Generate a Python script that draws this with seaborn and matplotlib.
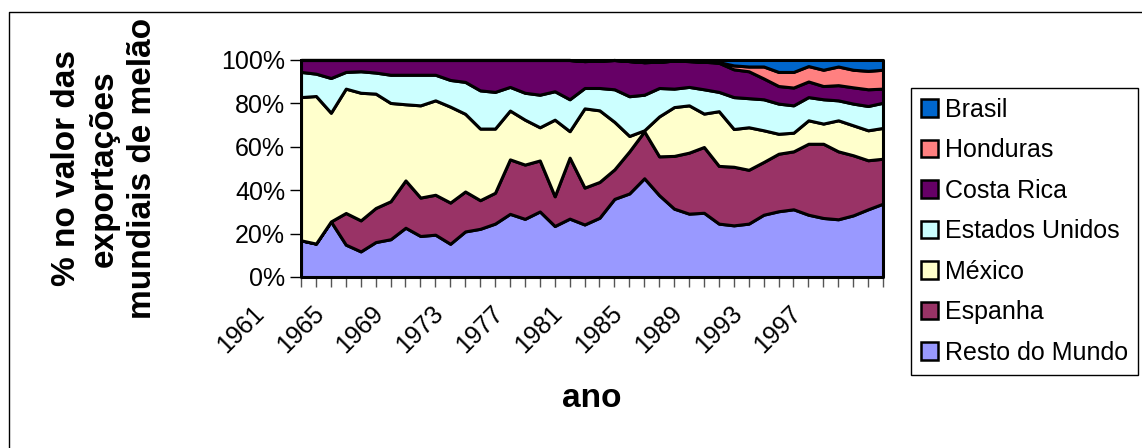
import matplotlib
matplotlib.use("Agg")
import matplotlib.pyplot as plt
import matplotlib.transforms as mtransforms
import seaborn as sns
from matplotlib.lines import Line2D
from matplotlib.patches import Patch
from matplotlib.ticker import PercentFormatter

sns.set_theme(style="white")
plt.rcParams["font.family"] = ["Liberation Sans", "DejaVu Sans"]
plt.rcParams["text.color"] = "black"
plt.rcParams["axes.labelcolor"] = "black"

# share (%) of world melon export value, 1961-2000
years = [1961, 1962, 1963, 1964, 1965, 1966, 1967, 1968, 1969, 1970,
         1971, 1972, 1973, 1974, 1975, 1976, 1977, 1978, 1979, 1980,
         1981, 1982, 1983, 1984, 1985, 1986, 1987, 1988, 1989, 1990,
         1991, 1992, 1993, 1994, 1995, 1996, 1997, 1998, 1999, 2000]
resto = [16.9, 15.4, 25.6, 14.9, 11.8, 16.1, 17.4, 22.7, 18.9, 19.5,
         15.3, 21.0, 22.2, 24.6, 29.1, 26.8, 30.2, 23.5, 26.9, 24.2,
         27.3, 36.0, 38.5, 45.5, 37.7, 31.5, 29.2, 29.6, 24.6, 23.8,
         24.6, 28.7, 30.3, 31.2, 28.7, 27.2, 26.6, 28.4, 31.2, 33.8]
espanha = [0.0, 0.0, 0.0, 14.6, 14.3, 15.7, 17.5, 21.8, 17.7, 18.4,
           19.0, 18.4, 13.2, 14.2, 25.1, 25.0, 23.5, 13.7, 28.1, 17.0,
           16.5, 13.6, 19.4, 21.6, 17.9, 24.3, 28.1, 30.3, 26.6, 27.0,
           24.8, 24.3, 26.5, 26.7, 32.7, 34.2, 31.3, 27.7, 22.6, 20.7]
mexico = [66.0, 68.0, 50.1, 57.3, 58.8, 52.7, 45.3, 35.1, 42.5, 43.5,
          44.2, 35.8, 33.0, 29.6, 22.5, 20.7, 15.3, 35.3, 12.2, 36.5,
          33.0, 21.9, 7.1, 0.5, 18.4, 22.5, 21.8, 15.4, 25.2, 17.4,
          19.6, 14.6, 9.2, 8.6, 10.8, 9.3, 14.3, 13.8, 13.8, 14.2]
eua = [11.6, 10.3, 16.0, 7.7, 9.9, 9.7, 13.0, 13.6, 14.1, 11.8,
       12.3, 14.7, 17.6, 16.9, 10.9, 12.4, 15.0, 13.1, 14.7, 9.4,
       10.3, 15.0, 18.3, 16.4, 13.1, 8.5, 8.5, 11.2, 8.9, 14.7,
       13.4, 14.3, 13.9, 12.6, 10.7, 11.2, 9.2, 10.0, 11.2, 11.6]
costa_rica = [5.5, 6.3, 8.3, 5.5, 5.2, 5.8, 6.8, 6.8, 6.8, 6.8,
              9.2, 10.1, 14.0, 14.7, 12.4, 15.1, 16.0, 14.4, 18.1, 12.4,
              12.6, 13.5, 16.2, 15.0, 12.1, 12.9, 11.9, 12.7, 13.4, 12.8,
              12.4, 9.6, 8.1, 8.2, 7.2, 6.1, 7.0, 7.5, 7.7, 6.5]
honduras = [0.0, 0.0, 0.0, 0.0, 0.0, 0.0, 0.0, 0.0, 0.0, 0.0,
            0.0, 0.0, 0.0, 0.0, 0.0, 0.0, 0.0, 0.0, 0.0, 0.0,
            0.0, 0.0, 0.0, 0.0, 0.0, 0.0, 0.0, 0.0, 0.3, 1.8,
            2.2, 5.5, 6.5, 7.2, 7.1, 7.5, 8.6, 8.1, 8.5, 8.7]
brasil = [0.0, 0.0, 0.0, 0.0, 0.0, 0.0, 0.0, 0.0, 0.0, 0.0,
          0.0, 0.0, 0.0, 0.0, 0.0, 0.0, 0.0, 0.0, 0.0, 0.5,
          0.3, 0.0, 0.5, 1.0, 0.8, 0.3, 0.5, 0.8, 1.0, 2.5,
          3.0, 3.0, 5.5, 5.5, 2.8, 4.5, 3.0, 4.5, 5.0, 4.5]

series = [resto, espanha, mexico, eua, costa_rica, honduras, brasil]
labels = ["Resto do Mundo", "Espanha", "México", "Estados Unidos",
          "Costa Rica", "Honduras", "Brasil"]
colors = ["#9999FF", "#993366", "#FFFFCC", "#CCFFFF",
          "#660066", "#FF8080", "#0066CC"]

fig = plt.figure(figsize=(11.42, 4.48), dpi=100)
ax = fig.add_axes([0.2636, 0.3817, 0.5096, 0.4844])

polys = ax.stackplot(years, *series, colors=colors, labels=labels,
                     edgecolor="black", linewidth=2.2)
for p in polys:
    p.set_clip_on(False)

ax.set_xlim(1961, 2000)
ax.set_ylim(0, 100)
ax.set_yticks([0, 20, 40, 60, 80, 100])
ax.yaxis.set_major_formatter(PercentFormatter(xmax=100, decimals=0))
ax.set_xticks(years)
ax.set_xticklabels([str(y) if (y - 1961) % 4 == 0 and y < 2000 else ""
                    for y in years],
                   rotation=45, ha="right", rotation_mode="anchor")
ax.tick_params(axis="both", labelsize=18, labelcolor="black", color="black",
               width=1, direction="out", length=7, bottom=True, left=True)
ax.tick_params(axis="y", length=8)
ax.tick_params(axis="x", color="#555555")

# excel puts the slanted year labels a bit left of and below their ticks
shift = mtransforms.ScaledTranslation(-0.49, -0.10, fig.dpi_scale_trans)
for lab in ax.get_xticklabels():
    lab.set_transform(lab.get_transform() + shift)

for side in ["top", "right"]:
    ax.spines[side].set_visible(False)
for side in ["left", "bottom"]:
    ax.spines[side].set_color("black")
    ax.spines[side].set_linewidth(1.2)
ax.grid(False)
ax.set_facecolor("white")

ax.set_xlabel("ano", fontsize=24, fontweight="bold")
ax.xaxis.label.set_va("center")
ax.xaxis.set_label_coords(0.5, -0.558)
ax.set_ylabel("% no valor das\nexportações\nmundiais de melão",
              fontsize=24, fontweight="bold", linespacing=1.3)
ax.yaxis.label.set_va("center")
ax.yaxis.set_label_coords(-0.338, 0.5)

handles = [Patch(facecolor=c, edgecolor="black", linewidth=1.8, label=l)
           for c, l in zip(colors, labels)][::-1]
leg = fig.legend(handles=handles, loc="upper left",
                 bbox_to_anchor=(0.7977, 0.8036), bbox_transform=fig.transFigure,
                 borderaxespad=0, fontsize=18, frameon=True, fancybox=False,
                 edgecolor="black", framealpha=1, handlelength=0.7,
                 handleheight=0.7, handletextpad=0.25, labelspacing=0.66,
                 borderpad=0.4)
leg.get_frame().set_linewidth(1)

# chart area border
fig.add_artist(Line2D([9 / 1142, 9 / 1142, 1.05], [-0.05, 1 - 12 / 448, 1 - 12 / 448],
                      transform=fig.transFigure, color="black", linewidth=1))

fig.savefig("out.png", dpi=100, facecolor="white")
